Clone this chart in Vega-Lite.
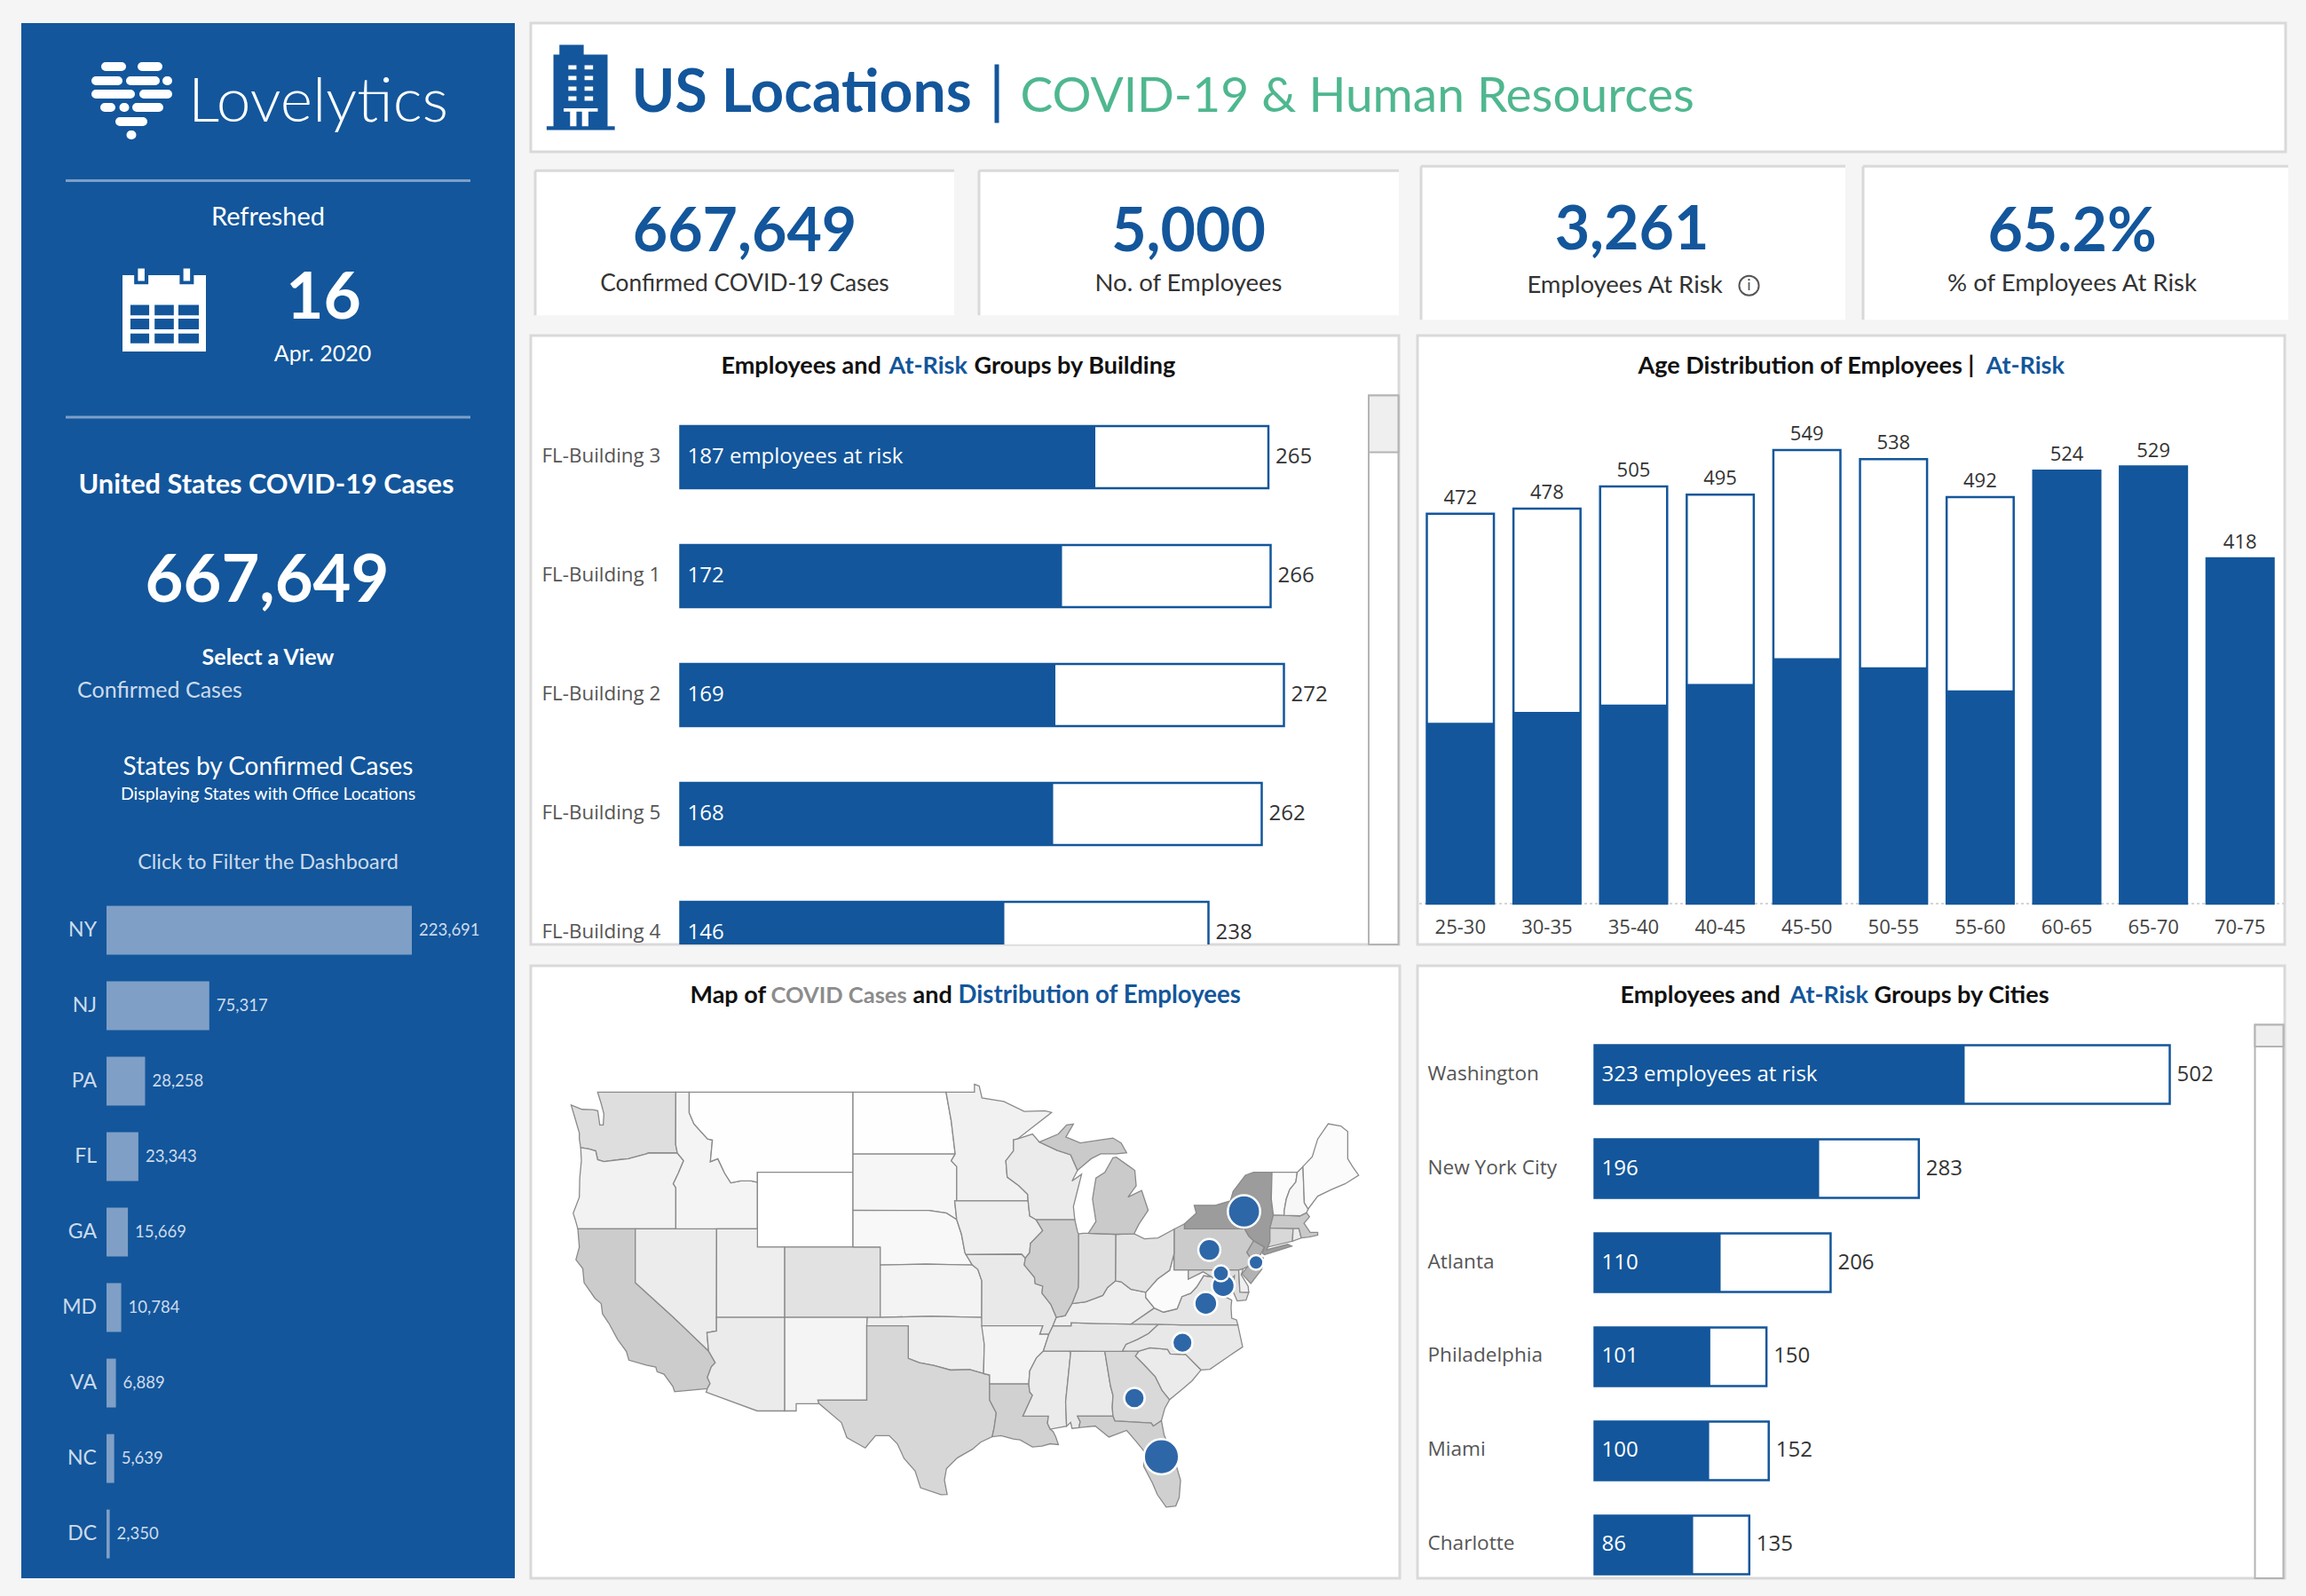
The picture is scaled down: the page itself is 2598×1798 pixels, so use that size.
{
"$schema":"https://vega.github.io/schema/vega-lite/v6.json",
"background":"#f5f5f5",
"padding":{"left":24,"top":24,"right":22,"bottom":22},
"config":{"text":{"font":"Lato"},"style":{"cell":{"stroke":null}}},
"spacing":16,
"hconcat":[
{"vconcat":[
 {"width":556,"height":976,"view":{"fill":"#13569b","stroke":null},"data":{"values":[{"cases":667649}]},
  "layer":[
   {"mark":{"type":"point","shape":"M-.59 -.76L-.23 -.76M.23 -.76L.59 -.76M-.81 -.44L-.31 -.44M-.03 -.44L.53 -.44M.79 -.44L.81 -.44M-.81 -.14L-.03 -.14M.27 -.14L.81 -.14M-.61 .16L-.47 .16M-.18 .16L-.16 .16M.11 .16L.61 .16M-.27 .48L.25 .48M-.02 .78L0 .78","size":10000,"filled":false,"stroke":"#fff","strokeWidth":10,"strokeCap":"round","opacity":1},"encoding":{"x":{"datum":148.5,"scale":{"domain":[24,580]},"axis":null},"y":{"datum":111,"scale":{"domain":[1000,24]},"axis":null}}},
   {"mark":{"type":"text","align":"left","baseline":"alphabetic","fontSize":69.5,"fontWeight":300,"color":"#fff"},"encoding":{"text":{"value":"Lovelytics"},"x":{"datum":212,"scale":{"domain":[24,580]},"axis":null},"y":{"datum":135,"scale":{"domain":[1000,24]},"axis":null}}},
   {"mark":{"type":"rule","stroke":"#7d9fc7","strokeWidth":3},"encoding":{"x":{"datum":74,"scale":{"domain":[24,580]},"axis":null},"x2":{"datum":530},"y":{"datum":201.5,"scale":{"domain":[1000,24]},"axis":null}}},
   {"mark":{"type":"rule","stroke":"#7d9fc7","strokeWidth":3},"encoding":{"x":{"datum":74,"scale":{"domain":[24,580]},"axis":null},"x2":{"datum":530},"y":{"datum":468,"scale":{"domain":[1000,24]},"axis":null}}},
   {"mark":{"type":"text","fontSize":29,"color":"#fff"},"encoding":{"text":{"value":"Refreshed"},"x":{"datum":302,"scale":{"domain":[24,580]},"axis":null},"y":{"datum":243,"scale":{"domain":[1000,24]},"axis":null}}},
   {"mark":{"type":"point","shape":"M-1 -.84L-.72 -.84L-.72 -.62L-.38 -.62L-.38 -.84L.37 -.84L.37 -.62L.71 -.62L.71 -.84L1 -.84L1 .99L-1 .99ZM-.63 -1L-.47 -1L-.47 -.7L-.63 -.7ZM.46 -1L.62 -1L.62 -.7L.46 -.7ZM-.81 -.13L-.81 .12L-.36 .12L-.36 -.13ZM-.23 -.13L-.23 .12L.23 .12L.23 -.13ZM.34 -.13L.34 .12L.83 .12L.83 -.13ZM-.81 .2L-.81 .46L-.36 .46L-.36 .2ZM-.23 .2L-.23 .46L.23 .46L.23 .2ZM.34 .2L.34 .46L.83 .46L.83 .2ZM-.81 .56L-.81 .79L-.36 .79L-.36 .56ZM-.23 .56L-.23 .79L.23 .79L.23 .56ZM.34 .56L.34 .79L.83 .79L.83 .56Z","size":8836,"filled":true,"fill":"#fff","strokeWidth":0,"opacity":1},"encoding":{"x":{"datum":185,"scale":{"domain":[24,580]},"axis":null},"y":{"datum":347.5,"scale":{"domain":[1000,24]},"axis":null}}},
   {"mark":{"type":"text","fontSize":73,"fontWeight":"bold","color":"#fff"},"encoding":{"text":{"value":"16"},"x":{"datum":364.5,"scale":{"domain":[24,580]},"axis":null},"y":{"datum":335,"scale":{"domain":[1000,24]},"axis":null}}},
   {"mark":{"type":"text","fontSize":25,"color":"#fff"},"encoding":{"text":{"value":"Apr. 2020"},"x":{"datum":363.5,"scale":{"domain":[24,580]},"axis":null},"y":{"datum":397,"scale":{"domain":[1000,24]},"axis":null}}},
   {"mark":{"type":"text","fontSize":30.7,"fontWeight":"bold","color":"#fff"},"encoding":{"text":{"value":"United States COVID-19 Cases"},"x":{"datum":300,"scale":{"domain":[24,580]},"axis":null},"y":{"datum":545,"scale":{"domain":[1000,24]},"axis":null}}},
   {"mark":{"type":"text","fontSize":74,"fontWeight":"bold","color":"#fff"},"encoding":{"text":{"field":"cases","type":"quantitative","format":","},"x":{"datum":301,"scale":{"domain":[24,580]},"axis":null},"y":{"datum":654,"scale":{"domain":[1000,24]},"axis":null}}},
   {"mark":{"type":"text","fontSize":25,"fontWeight":"bold","color":"#fff"},"encoding":{"text":{"value":"Select a View"},"x":{"datum":302,"scale":{"domain":[24,580]},"axis":null},"y":{"datum":739,"scale":{"domain":[1000,24]},"axis":null}}},
   {"mark":{"type":"text","align":"left","fontSize":25,"color":"#cddbec"},"encoding":{"text":{"value":"Confirmed Cases"},"x":{"datum":87,"scale":{"domain":[24,580]},"axis":null},"y":{"datum":775.5,"scale":{"domain":[1000,24]},"axis":null}}},
   {"mark":{"type":"text","fontSize":28,"color":"#fff"},"encoding":{"text":{"value":"States by Confirmed Cases"},"x":{"datum":302,"scale":{"domain":[24,580]},"axis":null},"y":{"datum":863,"scale":{"domain":[1000,24]},"axis":null}}},
   {"mark":{"type":"text","fontSize":19.5,"color":"#fff"},"encoding":{"text":{"value":"Displaying States with Office Locations"},"x":{"datum":302,"scale":{"domain":[24,580]},"axis":null},"y":{"datum":893,"scale":{"domain":[1000,24]},"axis":null}}},
   {"mark":{"type":"text","fontSize":23.4,"color":"#cddbec"},"encoding":{"text":{"value":"Click to Filter the Dashboard"},"x":{"datum":302,"scale":{"domain":[24,580]},"axis":null},"y":{"datum":970,"scale":{"domain":[1000,24]},"axis":null}}}
  ]},
 {"width":556,"height":776,"view":{"fill":"#13569b","stroke":null},
  "data":{"values":[{"state":"NY","cases":223691},{"state":"NJ","cases":75317},{"state":"PA","cases":28258},{"state":"FL","cases":23343},{"state":"GA","cases":15669},{"state":"MD","cases":10784},{"state":"VA","cases":6889},{"state":"NC","cases":5639},{"state":"DC","cases":2350}]},
  "encoding":{"y":{"field":"state","type":"nominal","sort":null,"scale":{"domain":["NY","NJ","PA","FL","GA","MD","VA","NC","DC"],"range":[18.6,753.6],"paddingInner":0.353,"paddingOuter":0},"axis":null}},
  "layer":[
   {"mark":{"type":"bar","color":"#7f9fc6"},"encoding":{"x":{"field":"cases","type":"quantitative","stack":null,"scale":{"domain":[0,223691],"range":[96,440]},"axis":null}}},
   {"mark":{"type":"text","align":"left","fontSize":18.5,"color":"#cddbec","dx":8},"encoding":{"text":{"field":"cases","type":"quantitative","format":","},"x":{"field":"cases","type":"quantitative","scale":{"domain":[0,223691],"range":[96,440]},"axis":null}}},
   {"mark":{"type":"text","align":"right","fontSize":23,"color":"#cddbec","dx":-11},"encoding":{"text":{"field":"state"},"x":{"datum":0,"scale":{"domain":[0,223691],"range":[96,440]},"axis":null}}}
  ]}
 ],"spacing":0},
{"vconcat":[
 {"vconcat":[
  {"width":1977,"height":145,"view":{"fill":"#fff","stroke":"#d9d9d9","strokeWidth":3},"data":{"values":[{}]},
   "layer":[
    {"mark":{"type":"point","shape":"M-.5 -1L.07 -1L.07 -.77L.63 -.77L.63 .91L.8 .91L.8 1L-.8 1L-.8 .91L-.64 .91L-.64 -.77L-.5 -.77ZM-.29 -.52L-.29 -.42L-.1 -.42L-.1 -.52ZM.09 -.52L.09 -.42L.29 -.42L.29 -.52ZM-.29 -.27L-.29 -.17L-.1 -.17L-.1 -.27ZM.09 -.27L.09 -.17L.29 -.17L.29 -.27ZM-.29 -.02L-.29 .08L-.1 .08L-.1 -.02ZM.09 -.02L.09 .08L.29 .08L.29 -.02ZM-.29 .21L-.29 .31L-.1 .31L-.1 .21ZM.09 .21L.09 .31L.29 .31L.29 .21ZM-.4 .49L-.4 .57L.4 .57L.4 .49ZM-.25 .57L-.25 .91L-.1 .91L-.1 .57ZM.03 .57L.03 .91L.18 .91L.18 .57Z","size":9216,"filled":true,"fill":"#13569b","strokeWidth":0,"opacity":1},"encoding":{"x":{"datum":653.75,"scale":{"domain":[597.5,2574.5]},"axis":null},"y":{"datum":98,"scale":{"domain":[170.5,25.5]},"axis":null}}},
    {"mark":{"type":"text","align":"left","baseline":"alphabetic","fontSize":66,"fontWeight":"bold","color":"#13569b"},"encoding":{"text":{"value":"US Locations"},"x":{"datum":711,"scale":{"domain":[597.5,2574.5]},"axis":null},"y":{"datum":125,"scale":{"domain":[170.5,25.5]},"axis":null}}},
    {"mark":{"type":"rule","stroke":"#13569b","strokeWidth":5},"encoding":{"x":{"datum":1122.5,"scale":{"domain":[597.5,2574.5]},"axis":null},"y":{"datum":72,"scale":{"domain":[170.5,25.5]},"axis":null},"y2":{"datum":138}}},
    {"mark":{"type":"text","align":"left","baseline":"alphabetic","fontSize":55,"color":"#4fb78f"},"encoding":{"text":{"value":"COVID-19 & Human Resources"},"x":{"datum":1149,"scale":{"domain":[597.5,2574.5]},"axis":null},"y":{"datum":125,"scale":{"domain":[170.5,25.5]},"axis":null}}}
   ]},
  {"hconcat":[
   {"width":3,"height":1,"view":{"fill":null,"stroke":null},"data":{"values":[{}]},"mark":{"type":"rect","opacity":0,"strokeWidth":0},"encoding":{}},
   {"hconcat":[
    {"hconcat":[
     {"width":472,"height":163,"view":{"fill":"#fff","stroke":null},"data":{"values":[{"value":667649,"label":"Confirmed COVID-19 Cases"}]},
      "layer":[
       {"mark":{"type":"rule","stroke":"#d9d9d9","strokeWidth":3},"encoding":{"x":{"datum":602.5,"scale":{"domain":[602.5,1074.5]},"axis":null}}},
       {"mark":{"type":"rule","stroke":"#d9d9d9","strokeWidth":3},"encoding":{"y":{"datum":194.5,"scale":{"domain":[357.5,194.5]},"axis":null}}},
       {"mark":{"type":"text","fontSize":68,"fontWeight":"bold","color":"#13569b"},"encoding":{"text":{"field":"value","type":"quantitative","format":","},"x":{"datum":838.5,"scale":{"domain":[602.5,1074.5]},"axis":null},"y":{"datum":265,"scale":{"domain":[357.5,194.5]},"axis":null}}},
       {"mark":{"type":"text","fontSize":26.3,"color":"#333"},"encoding":{"text":{"field":"label"},"x":{"datum":838.5,"scale":{"domain":[602.5,1074.5]},"axis":null},"y":{"datum":322,"scale":{"domain":[357.5,194.5]},"axis":null}}}
      ]},
     {"width":473,"height":163,"view":{"fill":"#fff","stroke":null},"data":{"values":[{"value":5000,"label":"No. of Employees"}]},
      "layer":[
       {"mark":{"type":"rule","stroke":"#d9d9d9","strokeWidth":3},"encoding":{"x":{"datum":1101.5,"scale":{"domain":[1101.5,1574.5]},"axis":null}}},
       {"mark":{"type":"rule","stroke":"#d9d9d9","strokeWidth":3},"encoding":{"y":{"datum":194.5,"scale":{"domain":[357.5,194.5]},"axis":null}}},
       {"mark":{"type":"text","fontSize":68,"fontWeight":"bold","color":"#13569b"},"encoding":{"text":{"field":"value","type":"quantitative","format":","},"x":{"datum":1337.5,"scale":{"domain":[1101.5,1574.5]},"axis":null},"y":{"datum":265,"scale":{"domain":[357.5,194.5]},"axis":null}}},
       {"mark":{"type":"text","fontSize":27.5,"color":"#333"},"encoding":{"text":{"field":"label"},"x":{"datum":1337.5,"scale":{"domain":[1101.5,1574.5]},"axis":null},"y":{"datum":322,"scale":{"domain":[357.5,194.5]},"axis":null}}}
      ]}
    ],"spacing":24},
    {"hconcat":[
     {"width":478,"height":173,"view":{"fill":"#fff","stroke":null},"data":{"values":[{"value":3261,"label":"Employees At Risk"}]},
      "layer":[
       {"mark":{"type":"rule","stroke":"#d9d9d9","strokeWidth":3},"encoding":{"x":{"datum":1598.5,"scale":{"domain":[1598.5,2076.5]},"axis":null}}},
       {"mark":{"type":"rule","stroke":"#d9d9d9","strokeWidth":3},"encoding":{"y":{"datum":188.5,"scale":{"domain":[361.5,188.5]},"axis":null}}},
       {"mark":{"type":"text","fontSize":68,"fontWeight":"bold","color":"#13569b"},"encoding":{"text":{"field":"value","type":"quantitative","format":","},"x":{"datum":1836,"scale":{"domain":[1598.5,2076.5]},"axis":null},"y":{"datum":262,"scale":{"domain":[361.5,188.5]},"axis":null}}},
       {"mark":{"type":"text","fontSize":27.5,"color":"#333"},"encoding":{"text":{"field":"label"},"x":{"datum":1828,"scale":{"domain":[1598.5,2076.5]},"axis":null},"y":{"datum":323,"scale":{"domain":[361.5,188.5]},"axis":null}}},
       {"mark":{"type":"point","shape":"circle","size":490,"filled":false,"stroke":"#555","strokeWidth":2,"opacity":1},"encoding":{"x":{"datum":1968,"scale":{"domain":[1598.5,2076.5]},"axis":null},"y":{"datum":323,"scale":{"domain":[361.5,188.5]},"axis":null}}},
       {"mark":{"type":"text","fontSize":18,"color":"#555"},"encoding":{"text":{"value":"i"},"x":{"datum":1968,"scale":{"domain":[1598.5,2076.5]},"axis":null},"y":{"datum":323,"scale":{"domain":[361.5,188.5]},"axis":null}}}
      ]},
     {"width":479,"height":173,"view":{"fill":"#fff","stroke":null},"data":{"values":[{"value":0.652,"label":"% of Employees At Risk"}]},
      "layer":[
       {"mark":{"type":"rule","stroke":"#d9d9d9","strokeWidth":3},"encoding":{"x":{"datum":2095.5,"scale":{"domain":[2095.5,2574.5]},"axis":null}}},
       {"mark":{"type":"rule","stroke":"#d9d9d9","strokeWidth":3},"encoding":{"y":{"datum":188.5,"scale":{"domain":[361.5,188.5]},"axis":null}}},
       {"mark":{"type":"text","fontSize":68,"fontWeight":"bold","color":"#13569b"},"encoding":{"text":{"field":"value","type":"quantitative","format":".1%"},"x":{"datum":2331,"scale":{"domain":[2095.5,2574.5]},"axis":null},"y":{"datum":264,"scale":{"domain":[361.5,188.5]},"axis":null}}},
       {"mark":{"type":"text","fontSize":27.5,"color":"#333"},"encoding":{"text":{"field":"label"},"x":{"datum":2331,"scale":{"domain":[2095.5,2574.5]},"axis":null},"y":{"datum":321,"scale":{"domain":[361.5,188.5]},"axis":null}}}
      ]}
    ],"spacing":16}
   ],"spacing":21,"center":true}
  ],"spacing":0}
 ],"spacing":12},
 {"vconcat":[
  {"hconcat":[
   {"width":978,"height":686,"view":{"fill":"#fff","stroke":"#d9d9d9","strokeWidth":3},
    "resolve":{"scale":{"x":"independent","y":"independent"}},
    "layer":[
     {"data":{"values":[{"building":"FL-Building 3","total":265,"at_risk":187,"note":"187 employees at risk"},{"building":"FL-Building 1","total":266,"at_risk":172,"note":"172"},{"building":"FL-Building 2","total":272,"at_risk":169,"note":"169"},{"building":"FL-Building 5","total":262,"at_risk":168,"note":"168"},{"building":"FL-Building 4","total":238,"at_risk":146,"note":"146"}]},
      "encoding":{"y":{"field":"building","type":"nominal","sort":null,"scale":{"domain":["FL-Building 3","FL-Building 1","FL-Building 2","FL-Building 5","FL-Building 4"],"range":[102,708],"paddingInner":0.478,"paddingOuter":0},"axis":null}},
      "layer":[
       {"mark":{"type":"bar","fill":"#fff","stroke":"#13569b","strokeWidth":2.5,"clip":true},"encoding":{"x":{"field":"total","type":"quantitative","stack":null,"scale":{"domain":[0,272],"range":[168.5,848.5]},"axis":null}}},
       {"mark":{"type":"bar","fill":"#13569b","clip":true},"encoding":{"x":{"field":"at_risk","type":"quantitative","stack":null,"scale":{"domain":[0,272],"range":[168.5,848.5]},"axis":null}}},
       {"mark":{"type":"text","align":"left","font":"Open Sans","fontSize":24,"color":"#fff","dx":8},"encoding":{"text":{"field":"note"},"x":{"datum":0,"scale":{"domain":[0,272],"range":[168.5,848.5]},"axis":null}}},
       {"mark":{"type":"text","align":"left","font":"Open Sans","fontSize":24,"color":"#333","dx":8},"encoding":{"text":{"field":"total","type":"quantitative"},"x":{"field":"total","type":"quantitative","scale":{"domain":[0,272],"range":[168.5,848.5]},"axis":null}}},
       {"mark":{"type":"text","align":"left","font":"Open Sans","fontSize":22.4,"color":"#555","dx":-156,"dy":-1},"encoding":{"text":{"field":"building"},"x":{"datum":0,"scale":{"domain":[0,272],"range":[168.5,848.5]},"axis":null}}}
      ]},
     {"data":{"values":[{}]},"layer":[
       {"mark":{"type":"rect","fill":"#fff","stroke":"#b4b4b4","strokeWidth":2},"encoding":{"x":{"datum":1541.5,"scale":{"domain":[597.5,1575.5]},"axis":null},"x2":{"datum":1575},"y":{"datum":446,"scale":{"domain":[1064.5,378.5]},"axis":null},"y2":{"datum":1064.5}}},
       {"mark":{"type":"rect","fill":"#efefef","stroke":"#b4b4b4","strokeWidth":2},"encoding":{"x":{"datum":1541.5,"scale":{"domain":[597.5,1575.5]},"axis":null},"x2":{"datum":1575},"y":{"datum":446,"scale":{"domain":[1064.5,378.5]},"axis":null},"y2":{"datum":510}}},
       {"mark":{"type":"text","align":"left","fontSize":27,"fontWeight":"bold","color":"#111"},"encoding":{"text":{"value":"Employees and"},"x":{"datum":812,"scale":{"domain":[597.5,1575.5]},"axis":null},"y":{"datum":413,"scale":{"domain":[1064.5,378.5]},"axis":null}}},
       {"mark":{"type":"text","align":"left","fontSize":27,"fontWeight":"bold","color":"#13569b"},"encoding":{"text":{"value":"At-Risk"},"x":{"datum":1001,"scale":{"domain":[597.5,1575.5]},"axis":null},"y":{"datum":413,"scale":{"domain":[1064.5,378.5]},"axis":null}}},
       {"mark":{"type":"text","align":"left","fontSize":27,"fontWeight":"bold","color":"#111"},"encoding":{"text":{"value":"Groups by Building"},"x":{"datum":1097,"scale":{"domain":[597.5,1575.5]},"axis":null},"y":{"datum":413,"scale":{"domain":[1064.5,378.5]},"axis":null}}}
     ]}
    ]},
   {"width":977,"height":686,"view":{"fill":"#fff","stroke":"#d9d9d9","strokeWidth":3},
    "resolve":{"scale":{"x":"independent","y":"independent"}},
    "layer":[
     {"data":{"values":[{"age":"25-30","total":472,"at_risk":219},{"age":"30-35","total":478,"at_risk":232},{"age":"35-40","total":505,"at_risk":241},{"age":"40-45","total":495,"at_risk":266},{"age":"45-50","total":549,"at_risk":297},{"age":"50-55","total":538,"at_risk":286},{"age":"55-60","total":492,"at_risk":258},{"age":"60-65","total":524,"at_risk":524},{"age":"65-70","total":529,"at_risk":529},{"age":"70-75","total":418,"at_risk":418}]},
      "encoding":{"x":{"field":"age","type":"nominal","sort":null,"scale":{"domain":["25-30","30-35","35-40","40-45","45-50","50-55","55-60","60-65","65-70","70-75"],"range":[10.5,964.5],"paddingInner":0.226,"paddingOuter":0},"axis":null}},
      "layer":[
       {"mark":{"type":"rule","stroke":"#d5d5d5","strokeWidth":1.5,"strokeDash":[3,3]},"encoding":{"x":null,"y":{"datum":0,"scale":{"domain":[0,549],"range":[640,129]},"axis":null}}},
       {"mark":{"type":"bar","fill":"#fff","stroke":"#13569b","strokeWidth":2.5},"encoding":{"y":{"field":"total","type":"quantitative","stack":null,"scale":{"domain":[0,549],"range":[640,129]},"axis":null}}},
       {"mark":{"type":"bar","fill":"#13569b"},"encoding":{"y":{"field":"at_risk","type":"quantitative","stack":null,"scale":{"domain":[0,549],"range":[640,129]},"axis":null}}},
       {"mark":{"type":"text","baseline":"bottom","font":"Open Sans","fontSize":22,"color":"#333","dy":-6},"encoding":{"text":{"field":"total","type":"quantitative"},"y":{"field":"total","type":"quantitative","scale":{"domain":[0,549],"range":[640,129]},"axis":null}}},
       {"mark":{"type":"text","font":"Open Sans","fontSize":22,"color":"#444","dy":27},"encoding":{"text":{"field":"age"},"y":{"datum":0,"scale":{"domain":[0,549],"range":[640,129]},"axis":null}}}
      ]},
     {"data":{"values":[{}]},"layer":[
       {"mark":{"type":"text","align":"left","fontSize":27,"fontWeight":"bold","color":"#111"},"encoding":{"text":{"value":"Age Distribution of Employees |"},"x":{"datum":1845,"scale":{"domain":[1596.5,2573.5]},"axis":null},"y":{"datum":413,"scale":{"domain":[1064.5,378.5]},"axis":null}}},
       {"mark":{"type":"text","align":"left","fontSize":27,"fontWeight":"bold","color":"#13569b"},"encoding":{"text":{"value":"At-Risk"},"x":{"datum":2237,"scale":{"domain":[1596.5,2573.5]},"axis":null},"y":{"datum":413,"scale":{"domain":[1064.5,378.5]},"axis":null}}}
     ]}
    ]}
  ],"spacing":16},
  {"hconcat":[
   {"width":979,"height":690,"view":{"fill":"#fff","stroke":"#d9d9d9","strokeWidth":3},
    "layer":[
     {"data":{"values":[
{"type":"Feature","properties":{"state":"WA","cases":11000},"geometry":{"type":"Polygon","coordinates":[[[-124.7,48.38],[-123.9,48.17],[-123.1,48.15],[-122.75,48.1],[-122.6,47.4],[-122.35,47.4],[-122.3,47.95],[-122.5,48.45],[-122.76,49],[-120,49],[-117.03,49],[-117.04,46.42],[-116.92,45.99],[-118.98,46],[-119.3,45.93],[-120.5,45.7],[-121.2,45.65],[-122.3,45.55],[-122.76,45.65],[-122.9,46.1],[-123.4,46.2],[-124,46.27],[-124.1,46.7],[-124.1,47],[-124.4,47.7],[-124.7,48.38]]]}},
{"type":"Feature","properties":{"state":"OR","cases":1700},"geometry":{"type":"Polygon","coordinates":[[[-124,46.27],[-123.4,46.2],[-122.9,46.1],[-122.76,45.65],[-122.3,45.55],[-121.2,45.65],[-120.5,45.7],[-119.3,45.93],[-118.98,46],[-116.92,45.99],[-116.46,45.6],[-116.85,44.95],[-117.22,44.4],[-117.03,44.2],[-117.03,42],[-120,42],[-124.21,42],[-124.4,42.5],[-124.55,42.84],[-124.1,43.7],[-124.07,44.7],[-123.95,45.6],[-124,46.27]]]}},
{"type":"Feature","properties":{"state":"CA","cases":27000},"geometry":{"type":"Polygon","coordinates":[[[-124.21,42],[-120,42],[-120,39],[-114.63,35],[-114.14,34.3],[-114.43,34.05],[-114.72,33.4],[-114.52,33.03],[-114.72,32.72],[-117.12,32.53],[-117.25,32.85],[-117.9,33.6],[-118.4,33.75],[-118.5,34.03],[-119.2,34.15],[-120.47,34.45],[-120.65,34.97],[-121.3,35.7],[-121.9,36.6],[-122.4,37.2],[-122.5,37.8],[-122.95,38.1],[-123.75,39],[-123.85,39.8],[-124.35,40.3],[-124.1,41],[-124.21,42]]]}},
{"type":"Feature","properties":{"state":"NV","cases":3300},"geometry":{"type":"Polygon","coordinates":[[[-120,42],[-117.03,42],[-114.04,42],[-114.05,37],[-114.05,36.2],[-114.75,36.1],[-114.63,35],[-120,39],[-120,42]]]}},
{"type":"Feature","properties":{"state":"ID","cases":1500},"geometry":{"type":"Polygon","coordinates":[[[-117.03,49],[-116.05,49],[-116.05,48],[-115.7,47.45],[-114.7,46.7],[-114.35,46.65],[-114.5,45.55],[-113.95,45.7],[-113.45,44.95],[-113,44.45],[-112.3,44.55],[-111.5,44.55],[-111.05,44.48],[-111.05,42],[-114.04,42],[-117.03,42],[-117.03,44.2],[-117.22,44.4],[-116.85,44.95],[-116.46,45.6],[-116.92,45.99],[-117.04,46.42],[-117.03,49]]]}},
{"type":"Feature","properties":{"state":"MT","cases":400},"geometry":{"type":"Polygon","coordinates":[[[-116.05,49],[-113,49],[-110,49],[-107,49],[-104.05,49],[-104.05,45],[-107.5,45],[-111.05,45],[-111.05,44.48],[-111.5,44.55],[-112.3,44.55],[-113,44.45],[-113.45,44.95],[-113.95,45.7],[-114.5,45.55],[-114.35,46.65],[-114.7,46.7],[-115.7,47.45],[-116.05,48],[-116.05,49]]]}},
{"type":"Feature","properties":{"state":"WY","cases":300},"geometry":{"type":"Polygon","coordinates":[[[-111.05,45],[-107.5,45],[-104.05,45],[-104.05,43],[-104.05,41],[-107.5,41],[-111.05,41],[-111.05,42],[-111.05,44.48],[-111.05,45]]]}},
{"type":"Feature","properties":{"state":"UT","cases":2600},"geometry":{"type":"Polygon","coordinates":[[[-114.04,42],[-111.05,42],[-111.05,41],[-109.05,41],[-109.05,37],[-111.5,37],[-114.05,37],[-114.04,42]]]}},
{"type":"Feature","properties":{"state":"AZ","cases":4000},"geometry":{"type":"Polygon","coordinates":[[[-114.05,37],[-111.5,37],[-109.05,37],[-109.05,31.33],[-111.07,31.33],[-114.81,32.49],[-114.72,32.72],[-114.52,33.03],[-114.72,33.4],[-114.43,34.05],[-114.14,34.3],[-114.63,35],[-114.75,36.1],[-114.05,36.2],[-114.05,37]]]}},
{"type":"Feature","properties":{"state":"CO","cases":8700},"geometry":{"type":"Polygon","coordinates":[[[-109.05,41],[-107,41],[-104.05,41],[-102.05,41],[-102.05,40],[-102.05,37],[-103,37],[-105,37],[-109.05,37],[-109.05,41]]]}},
{"type":"Feature","properties":{"state":"NM","cases":1500},"geometry":{"type":"Polygon","coordinates":[[[-109.05,37],[-105,37],[-103,37],[-103.04,36.5],[-103.04,32],[-106.62,32],[-106.53,31.78],[-108.21,31.78],[-108.21,31.33],[-109.05,31.33],[-109.05,37]]]}},
{"type":"Feature","properties":{"state":"ND","cases":390},"geometry":{"type":"Polygon","coordinates":[[[-104.05,49],[-101,49],[-97.23,49],[-96.85,47.6],[-96.56,45.94],[-100,45.94],[-104.05,45.94],[-104.05,49]]]}},
{"type":"Feature","properties":{"state":"SD","cases":1300},"geometry":{"type":"Polygon","coordinates":[[[-104.05,45.94],[-100,45.94],[-96.56,45.94],[-96.85,45.6],[-96.45,45.3],[-96.45,43.5],[-96.6,43.5],[-96.45,42.5],[-97.2,42.85],[-98.5,42.99],[-104.05,43],[-104.05,45.94]]]}},
{"type":"Feature","properties":{"state":"NE","cases":1000},"geometry":{"type":"Polygon","coordinates":[[[-104.05,43],[-98.5,42.99],[-97.2,42.85],[-96.45,42.5],[-96.1,41.7],[-95.85,40.7],[-95.31,40],[-102.05,40],[-102.05,41],[-104.05,41],[-104.05,43]]]}},
{"type":"Feature","properties":{"state":"KS","cases":1600},"geometry":{"type":"Polygon","coordinates":[[[-102.05,40],[-95.31,40],[-94.9,39.75],[-94.61,39.1],[-94.62,37],[-102.05,37],[-102.05,40]]]}},
{"type":"Feature","properties":{"state":"OK","cases":2300},"geometry":{"type":"Polygon","coordinates":[[[-103,37],[-102.05,37],[-94.62,37],[-94.43,35.4],[-94.48,33.64],[-95.5,33.88],[-96.9,33.85],[-98.1,34.13],[-99.2,34.3],[-100,34.56],[-100,36.5],[-103.04,36.5],[-103,37]]]}},
{"type":"Feature","properties":{"state":"TX","cases":17000},"geometry":{"type":"Polygon","coordinates":[[[-103.04,36.5],[-100,36.5],[-100,34.56],[-99.2,34.3],[-98.1,34.13],[-96.9,33.85],[-95.5,33.88],[-94.48,33.64],[-94.04,33.55],[-94.04,33],[-94.04,32],[-93.55,31.2],[-93.7,30.3],[-93.85,29.7],[-94.7,29.35],[-95.3,28.9],[-96.4,28.35],[-97.2,27.65],[-97.35,26.9],[-97.15,25.96],[-97.6,25.95],[-99.1,26.4],[-99.5,27.5],[-100.3,28.3],[-100.8,29.25],[-101.4,29.77],[-102.4,29.77],[-103.15,28.98],[-104.5,29.65],[-104.9,30.6],[-106.53,31.78],[-106.62,32],[-103.04,32],[-103.04,36.5]]]}},
{"type":"Feature","properties":{"state":"MN","cases":1800},"geometry":{"type":"Polygon","coordinates":[[[-97.23,49],[-95.15,49],[-95.15,49.38],[-94.8,49.3],[-94.6,48.72],[-93,48.55],[-91.5,48.07],[-90,48.1],[-89.5,48.02],[-92,46.7],[-92.29,46.66],[-92.29,46.1],[-92.85,45.6],[-92.75,44.75],[-91.9,44.3],[-91.25,43.85],[-91.22,43.5],[-96.45,43.5],[-96.45,45.3],[-96.85,45.6],[-96.56,45.94],[-96.85,47.6],[-97.23,49]]]}},
{"type":"Feature","properties":{"state":"IA","cases":2000},"geometry":{"type":"Polygon","coordinates":[[[-96.45,43.5],[-91.22,43.5],[-91.1,42.7],[-90.64,42.5],[-90.15,41.9],[-91.05,41.2],[-91.1,40.7],[-91.42,40.38],[-91.7,40.6],[-95.77,40.58],[-95.85,40.7],[-96.1,41.7],[-96.45,42.5],[-96.6,43.5],[-96.45,43.5]]]}},
{"type":"Feature","properties":{"state":"MO","cases":5000},"geometry":{"type":"Polygon","coordinates":[[[-95.77,40.58],[-91.7,40.6],[-91.42,40.38],[-91.5,40],[-90.75,39.3],[-90.7,38.95],[-90.15,38.8],[-90.2,38.4],[-89.55,37.75],[-89.15,37],[-89.4,36.5],[-89.7,36],[-90.37,36],[-90.15,36.5],[-94.62,36.5],[-94.62,37],[-94.61,39.1],[-94.9,39.75],[-95.31,40],[-95.77,40.58]]]}},
{"type":"Feature","properties":{"state":"AR","cases":1500},"geometry":{"type":"Polygon","coordinates":[[[-94.62,36.5],[-90.15,36.5],[-90.37,36],[-89.7,36],[-90.1,35],[-90.6,34.6],[-91.1,33.8],[-91.17,33],[-94.04,33],[-94.04,33.55],[-94.48,33.64],[-94.43,35.4],[-94.62,36.5]]]}},
{"type":"Feature","properties":{"state":"LA","cases":23000},"geometry":{"type":"Polygon","coordinates":[[[-94.04,33],[-91.17,33],[-91.1,32.5],[-90.9,32.3],[-91.6,31],[-89.73,31],[-89.8,30.55],[-89.6,30.18],[-89.4,30.05],[-89.2,29.7],[-89,29.2],[-89.6,29.25],[-90.2,29.1],[-90.9,29.05],[-91.8,29.5],[-92.3,29.55],[-93.2,29.77],[-93.85,29.7],[-93.7,30.3],[-93.55,31.2],[-94.04,32],[-94.04,33]]]}},
{"type":"Feature","properties":{"state":"MS","cases":3800},"geometry":{"type":"Polygon","coordinates":[[[-90.1,35],[-88.2,35],[-88.1,34.9],[-88.47,31.9],[-88.4,30.37],[-89.6,30.18],[-89.8,30.55],[-89.73,31],[-91.6,31],[-90.9,32.3],[-91.1,32.5],[-91.17,33],[-91.1,33.8],[-90.6,34.6],[-90.1,35]]]}},
{"type":"Feature","properties":{"state":"AL","cases":4400},"geometry":{"type":"Polygon","coordinates":[[[-88.2,35],[-85.6,34.98],[-85.18,32.87],[-85,32.3],[-85.05,31.55],[-85,31],[-87.6,31],[-87.4,30.65],[-87.5,30.28],[-88,30.23],[-88.1,30.6],[-88.4,30.37],[-88.47,31.9],[-88.1,34.9],[-88.2,35]]]}},
{"type":"Feature","properties":{"state":"GA","cases":15669},"geometry":{"type":"Polygon","coordinates":[[[-85.6,34.98],[-84.32,34.99],[-83.1,35],[-83.35,34.7],[-82.75,34.2],[-81.9,33.45],[-81.4,32.6],[-80.85,32.03],[-81.2,31.5],[-81.45,30.72],[-82.05,30.37],[-82.2,30.57],[-84.86,30.7],[-85,31],[-85.05,31.55],[-85,32.3],[-85.18,32.87],[-85.6,34.98]]]}},
{"type":"Feature","properties":{"state":"FL","cases":23343},"geometry":{"type":"Polygon","coordinates":[[[-87.6,31],[-85,31],[-84.86,30.7],[-82.2,30.57],[-82.05,30.37],[-81.45,30.72],[-81.25,29.8],[-80.55,28.4],[-80.05,26.9],[-80.15,25.75],[-80.4,25.2],[-81.1,25.13],[-81.75,25.95],[-82.1,26.7],[-82.75,27.8],[-82.65,28.7],[-83.4,29.5],[-84,30.1],[-85.3,29.68],[-86.3,30.38],[-87.5,30.28],[-87.4,30.65],[-87.6,31]]]}},
{"type":"Feature","properties":{"state":"SC","cases":3900},"geometry":{"type":"Polygon","coordinates":[[[-83.1,35],[-82.3,35.2],[-81,35.1],[-80.8,34.82],[-79.67,34.8],[-78.55,33.86],[-79.2,33.2],[-79.9,32.7],[-80.85,32.03],[-81.4,32.6],[-81.9,33.45],[-82.75,34.2],[-83.35,34.7],[-83.1,35]]]}},
{"type":"Feature","properties":{"state":"NC","cases":5639},"geometry":{"type":"Polygon","coordinates":[[[-81.68,36.59],[-80,36.55],[-75.85,36.55],[-75.5,35.25],[-76.5,34.7],[-77.9,33.9],[-78.55,33.86],[-79.67,34.8],[-80.8,34.82],[-81,35.1],[-82.3,35.2],[-83.1,35],[-84.32,34.99],[-84.05,35.4],[-83.2,35.7],[-82.4,36.05],[-81.68,36.59]]]}},
{"type":"Feature","properties":{"state":"TN","cases":6500},"geometry":{"type":"Polygon","coordinates":[[[-89.4,36.5],[-88.07,36.5],[-88.07,36.68],[-86,36.63],[-83.68,36.6],[-81.68,36.59],[-82.4,36.05],[-83.2,35.7],[-84.05,35.4],[-84.32,34.99],[-85.6,34.98],[-88.2,35],[-90.1,35],[-89.7,36],[-89.4,36.5]]]}},
{"type":"Feature","properties":{"state":"KY","cases":2500},"geometry":{"type":"Polygon","coordinates":[[[-84.82,39.1],[-84.4,39.05],[-83.7,38.63],[-82.6,38.45],[-82.6,38.15],[-81.97,37.54],[-83.68,36.6],[-86,36.63],[-88.07,36.68],[-88.07,36.5],[-89.4,36.5],[-89.15,37],[-88.5,37.1],[-88,37.8],[-87,37.9],[-86.3,38.1],[-85.75,38.27],[-85.4,38.72],[-84.82,39.1]]]}},
{"type":"Feature","properties":{"state":"VA","cases":6889},"geometry":{"type":"Polygon","coordinates":[[[-83.68,36.6],[-81.97,37.54],[-81.3,37.3],[-80.3,37.5],[-79.95,38.2],[-79.3,38.4],[-78.87,38.76],[-78.35,39.4],[-77.72,39.32],[-77.05,38.85],[-77.3,38.4],[-76.3,38],[-76.35,37.6],[-76.3,36.95],[-75.95,36.85],[-75.85,36.55],[-80,36.55],[-81.68,36.59],[-83.68,36.6]]]}},
{"type":"Feature","properties":{"state":"WV","cases":700},"geometry":{"type":"Polygon","coordinates":[[[-80.52,40.64],[-80.52,39.72],[-79.48,39.72],[-79.48,39.2],[-78.4,39.62],[-77.72,39.32],[-78.35,39.4],[-78.87,38.76],[-79.3,38.4],[-79.95,38.2],[-80.3,37.5],[-81.3,37.3],[-81.97,37.54],[-82.6,38.15],[-82.6,38.45],[-81.75,39.2],[-80.85,39.7],[-80.52,40.64]]]}},
{"type":"Feature","properties":{"state":"MD","cases":10784},"geometry":{"type":"Polygon","coordinates":[[[-79.48,39.72],[-75.79,39.72],[-75.7,38.46],[-75.05,38.45],[-75.25,38],[-75.9,37.95],[-76.2,38.5],[-76.1,39.4],[-76.5,39.1],[-76.4,38.3],[-76.95,38.25],[-77.05,38.85],[-77.72,39.32],[-78.4,39.62],[-79.48,39.2],[-79.48,39.72]]]}},
{"type":"Feature","properties":{"state":"DE","cases":2000},"geometry":{"type":"Polygon","coordinates":[[[-75.79,39.72],[-75.45,39.8],[-75.6,39.45],[-75.1,38.8],[-75.05,38.45],[-75.7,38.46],[-75.79,39.72]]]}},
{"type":"Feature","properties":{"state":"DC","cases":2350},"geometry":{"type":"Polygon","coordinates":[[[-77.12,38.93],[-77.04,39],[-76.91,38.89],[-77.04,38.79],[-77.12,38.93]]]}},
{"type":"Feature","properties":{"state":"NJ","cases":75317},"geometry":{"type":"Polygon","coordinates":[[[-75.2,40.7],[-74.7,41.35],[-73.9,41],[-74.25,40.5],[-73.98,40.4],[-74.1,39.75],[-74.9,38.95],[-75.55,39.5],[-75.15,39.9],[-74.75,40.2],[-75.2,40.7]]]}},
{"type":"Feature","properties":{"state":"PA","cases":28258},"geometry":{"type":"Polygon","coordinates":[[[-80.52,41.98],[-79.76,42.27],[-79.76,42],[-75.35,42],[-75.05,41.6],[-74.7,41.35],[-75.2,40.7],[-74.75,40.2],[-75.15,39.9],[-75.45,39.8],[-75.79,39.72],[-79.48,39.72],[-80.52,39.72],[-80.52,40.64],[-80.52,41.98]]]}},
{"type":"Feature","properties":{"state":"NY","cases":223691},"geometry":{"type":"Polygon","coordinates":[[[-79.76,42.27],[-78.9,42.85],[-79.05,43.27],[-77.5,43.27],[-76.4,43.5],[-76.2,44],[-75.3,44.85],[-74.7,45],[-73.35,45],[-73.4,43.6],[-73.25,42.75],[-73.5,42.05],[-73.5,41.3],[-73.65,41],[-73.75,40.85],[-72.2,41.15],[-71.9,41.05],[-73.9,40.57],[-74.05,40.65],[-73.9,41],[-74.7,41.35],[-75.05,41.6],[-75.35,42],[-79.76,42],[-79.76,42.27]]]}},
{"type":"Feature","properties":{"state":"CT","cases":16000},"geometry":{"type":"Polygon","coordinates":[[[-73.5,42.05],[-71.8,42.02],[-71.85,41.32],[-73.65,41],[-73.5,41.3],[-73.5,42.05]]]}},
{"type":"Feature","properties":{"state":"RI","cases":3900},"geometry":{"type":"Polygon","coordinates":[[[-71.8,42.02],[-71.38,42.02],[-71.2,41.5],[-71.85,41.32],[-71.8,42.02]]]}},
{"type":"Feature","properties":{"state":"MA","cases":29918},"geometry":{"type":"Polygon","coordinates":[[[-73.25,42.75],[-71.3,42.7],[-70.82,42.87],[-70.6,42.65],[-71,42.3],[-70.55,41.8],[-70,41.8],[-70,41.65],[-70.65,41.55],[-71.2,41.5],[-71.38,42.02],[-71.8,42.02],[-73.5,42.05],[-73.25,42.75]]]}},
{"type":"Feature","properties":{"state":"VT","cases":770},"geometry":{"type":"Polygon","coordinates":[[[-73.35,45],[-71.5,45],[-71.6,44.5],[-72.05,44.1],[-72.3,43.6],[-72.45,43],[-72.46,42.73],[-73.25,42.75],[-73.4,43.6],[-73.35,45]]]}},
{"type":"Feature","properties":{"state":"NH","cases":1200},"geometry":{"type":"Polygon","coordinates":[[[-71.5,45],[-71.08,45.3],[-70.98,43.4],[-70.7,43.07],[-70.82,42.87],[-71.3,42.7],[-72.46,42.73],[-72.45,43],[-72.3,43.6],[-72.05,44.1],[-71.6,44.5],[-71.5,45]]]}},
{"type":"Feature","properties":{"state":"ME","cases":770},"geometry":{"type":"Polygon","coordinates":[[[-71.08,45.3],[-70.4,45.8],[-70,46.7],[-69.23,47.46],[-68.3,47.35],[-67.8,47.07],[-67.8,45.7],[-67.45,45.3],[-67,44.85],[-68,44.4],[-69,44.1],[-70,43.75],[-70.7,43.07],[-70.98,43.4],[-71.08,45.3]]]}},
{"type":"Feature","properties":{"state":"OH","cases":8000},"geometry":{"type":"Polygon","coordinates":[[[-84.8,41.7],[-83.45,41.73],[-82.7,41.45],[-81.7,41.5],[-80.52,41.98],[-80.52,40.64],[-80.85,39.7],[-81.75,39.2],[-82.6,38.45],[-83.7,38.63],[-84.4,39.05],[-84.82,39.1],[-84.8,41.7]]]}},
{"type":"Feature","properties":{"state":"IN","cases":10000},"geometry":{"type":"Polygon","coordinates":[[[-87.53,41.72],[-87.2,41.76],[-86.8,41.76],[-84.8,41.7],[-84.82,39.1],[-85.4,38.72],[-85.75,38.27],[-86.3,38.1],[-87,37.9],[-88,37.8],[-87.55,38.7],[-87.53,39.35],[-87.53,41.72]]]}},
{"type":"Feature","properties":{"state":"IL","cases":25000},"geometry":{"type":"Polygon","coordinates":[[[-90.64,42.5],[-87.8,42.5],[-87.6,41.85],[-87.53,41.72],[-87.53,39.35],[-87.55,38.7],[-88,37.8],[-88.5,37.1],[-89.15,37],[-89.55,37.75],[-90.2,38.4],[-90.15,38.8],[-90.7,38.95],[-90.75,39.3],[-91.5,40],[-91.42,40.38],[-91.1,40.7],[-91.05,41.2],[-90.15,41.9],[-90.64,42.5]]]}},
{"type":"Feature","properties":{"state":"WI","cases":3900},"geometry":{"type":"Polygon","coordinates":[[[-92.29,46.66],[-92,46.7],[-90.9,46.95],[-90.4,46.55],[-89.1,46.13],[-88.1,45.9],[-87.6,45.1],[-88,44.55],[-87.3,44.9],[-87.55,44.2],[-87.9,43.2],[-87.8,42.5],[-90.64,42.5],[-91.1,42.7],[-91.22,43.5],[-91.25,43.85],[-91.9,44.3],[-92.75,44.75],[-92.85,45.6],[-92.29,46.1],[-92.29,46.66]]]}},
{"type":"Feature","properties":{"state":"MI","cases":29000},"geometry":{"type":"MultiPolygon","coordinates":[[[[-86.8,41.76],[-86.25,42.4],[-86.5,43.6],[-86.25,44.7],[-85.6,45],[-85,45.75],[-84.75,45.78],[-83.4,45.1],[-83.3,44.3],[-83.9,43.7],[-82.9,44.05],[-82.42,43],[-83.1,42.25],[-83.45,41.73],[-84.8,41.7],[-86.8,41.76]]],[[[-90.4,46.55],[-89,46.95],[-88.4,47.4],[-87.9,47.45],[-88.45,46.8],[-87.4,46.5],[-86,46.65],[-85,46.75],[-84.4,46.5],[-84,46],[-84.75,45.95],[-85.9,45.95],[-86.6,45.7],[-87.6,45.1],[-88.1,45.9],[-89.1,46.13],[-90.4,46.55]]]]}}
      ]},
      "mark":{"type":"geoshape","stroke":"#8a8a8a","strokeWidth":1.3},
      "projection":{"type":"mercator","scale":881,"translate":[1962.9,1009.2]},
      "encoding":{"color":{"field":"properties.cases","type":"quantitative","scale":{"domain":[300,2000,10000,30000,80000,223691],"range":["#ffffff","#efefef","#dfdfdf","#c9c9c9","#b0b0b0","#9c9c9c"]},"legend":null}}},
     {"data":{"values":[{"state":"FL","lon":-81.45,"lat":28.42,"employees":1900},{"state":"NY","lon":-75.4,"lat":42.94,"employees":1600},{"state":"PA","lon":-77.94,"lat":40.84,"employees":750},{"state":"VA","lon":-78.2,"lat":37.81,"employees":800},{"state":"DC","lon":-76.92,"lat":38.83,"employees":800},{"state":"NC","lon":-79.91,"lat":35.5,"employees":620},{"state":"GA","lon":-83.43,"lat":32.13,"employees":650},{"state":"MD","lon":-77.09,"lat":39.53,"employees":400},{"state":"NJ","lon":-74.52,"lat":40.14,"employees":330}]},
      "mark":{"type":"circle","fill":"#2e67a8","stroke":"#fff","strokeWidth":2.5,"opacity":1},
      "projection":{"type":"mercator","scale":881,"translate":[1962.9,1009.2]},
      "encoding":{"longitude":{"field":"lon","type":"quantitative"},"latitude":{"field":"lat","type":"quantitative"},"size":{"field":"employees","type":"quantitative","scale":{"domain":[0,1300],"range":[0,1075]},"legend":null}}},
     {"data":{"values":[{}]},"mark":{"type":"text","align":"left","fontSize":27,"fontWeight":"bold","color":"#111"},"encoding":{"text":{"value":"Map of"},"x":{"datum":777,"scale":{"domain":[597.5,1576.5]},"axis":null},"y":{"datum":1120,"scale":{"domain":[1776.5,1086.5]},"axis":null}}},
     {"data":{"values":[{}]},"mark":{"type":"text","align":"left","fontSize":25.5,"fontWeight":"bold","color":"#8c8c8c"},"encoding":{"text":{"value":"COVID Cases"},"x":{"datum":868,"scale":{"domain":[597.5,1576.5]},"axis":null},"y":{"datum":1120,"scale":{"domain":[1776.5,1086.5]},"axis":null}}},
     {"data":{"values":[{}]},"mark":{"type":"text","align":"left","fontSize":27,"fontWeight":"bold","color":"#111"},"encoding":{"text":{"value":"and"},"x":{"datum":1028,"scale":{"domain":[597.5,1576.5]},"axis":null},"y":{"datum":1120,"scale":{"domain":[1776.5,1086.5]},"axis":null}}},
     {"data":{"values":[{}]},"mark":{"type":"text","align":"left","fontSize":27.6,"fontWeight":"bold","color":"#13569b"},"encoding":{"text":{"value":"Distribution of Employees"},"x":{"datum":1079,"scale":{"domain":[597.5,1576.5]},"axis":null},"y":{"datum":1120,"scale":{"domain":[1776.5,1086.5]},"axis":null}}}
    ]},
   {"width":977,"height":690,"view":{"fill":"#fff","stroke":"#d9d9d9","strokeWidth":3},
    "resolve":{"scale":{"x":"independent","y":"independent"}},
    "layer":[
     {"data":{"values":[{"city":"Washington","total":502,"at_risk":323,"note":"323 employees at risk"},{"city":"New York City","total":283,"at_risk":196,"note":"196"},{"city":"Atlanta","total":206,"at_risk":110,"note":"110"},{"city":"Philadelphia","total":150,"at_risk":101,"note":"101"},{"city":"Miami","total":152,"at_risk":100,"note":"100"},{"city":"Charlotte","total":135,"at_risk":86,"note":"86"}]},
      "encoding":{"y":{"field":"city","type":"nominal","sort":null,"scale":{"domain":["Washington","New York City","Atlanta","Philadelphia","Miami","Charlotte"],"range":[89.5,685.5],"paddingInner":0.377,"paddingOuter":0},"axis":null}},
      "layer":[
       {"mark":{"type":"bar","fill":"#fff","stroke":"#13569b","strokeWidth":2.5},"encoding":{"x":{"field":"total","type":"quantitative","stack":null,"scale":{"domain":[0,502],"range":[199.5,847.5]},"axis":null}}},
       {"mark":{"type":"bar","fill":"#13569b"},"encoding":{"x":{"field":"at_risk","type":"quantitative","stack":null,"scale":{"domain":[0,502],"range":[199.5,847.5]},"axis":null}}},
       {"mark":{"type":"text","align":"left","font":"Open Sans","fontSize":24,"color":"#fff","dx":8},"encoding":{"text":{"field":"note"},"x":{"datum":0,"scale":{"domain":[0,502],"range":[199.5,847.5]},"axis":null}}},
       {"mark":{"type":"text","align":"left","font":"Open Sans","fontSize":24,"color":"#333","dx":8},"encoding":{"text":{"field":"total","type":"quantitative"},"x":{"field":"total","type":"quantitative","scale":{"domain":[0,502],"range":[199.5,847.5]},"axis":null}}},
       {"mark":{"type":"text","align":"left","font":"Open Sans","fontSize":22.6,"color":"#555","dx":-188,"dy":-1},"encoding":{"text":{"field":"city"},"x":{"datum":0,"scale":{"domain":[0,502],"range":[199.5,847.5]},"axis":null}}}
      ]},
     {"data":{"values":[{}]},"layer":[
       {"mark":{"type":"rect","fill":"#fff","stroke":"#b4b4b4","strokeWidth":2},"encoding":{"x":{"datum":2540,"scale":{"domain":[1596.5,2573.5]},"axis":null},"x2":{"datum":2572},"y":{"datum":1153,"scale":{"domain":[1776.5,1086.5]},"axis":null},"y2":{"datum":1776.5}}},
       {"mark":{"type":"rect","fill":"#efefef","stroke":"#b4b4b4","strokeWidth":2},"encoding":{"x":{"datum":2540,"scale":{"domain":[1596.5,2573.5]},"axis":null},"x2":{"datum":2572},"y":{"datum":1153,"scale":{"domain":[1776.5,1086.5]},"axis":null},"y2":{"datum":1177.5}}},
       {"mark":{"type":"text","align":"left","fontSize":27,"fontWeight":"bold","color":"#111"},"encoding":{"text":{"value":"Employees and"},"x":{"datum":1825,"scale":{"domain":[1596.5,2573.5]},"axis":null},"y":{"datum":1120,"scale":{"domain":[1776.5,1086.5]},"axis":null}}},
       {"mark":{"type":"text","align":"left","fontSize":27,"fontWeight":"bold","color":"#13569b"},"encoding":{"text":{"value":"At-Risk"},"x":{"datum":2016,"scale":{"domain":[1596.5,2573.5]},"axis":null},"y":{"datum":1120,"scale":{"domain":[1776.5,1086.5]},"axis":null}}},
       {"mark":{"type":"text","align":"left","fontSize":27,"fontWeight":"bold","color":"#111"},"encoding":{"text":{"value":"Groups by Cities"},"x":{"datum":2111,"scale":{"domain":[1596.5,2573.5]},"axis":null},"y":{"datum":1120,"scale":{"domain":[1776.5,1086.5]},"axis":null}}}
     ]}
    ]}
  ],"spacing":16}
 ],"spacing":19}
],"spacing":14}
]
}
